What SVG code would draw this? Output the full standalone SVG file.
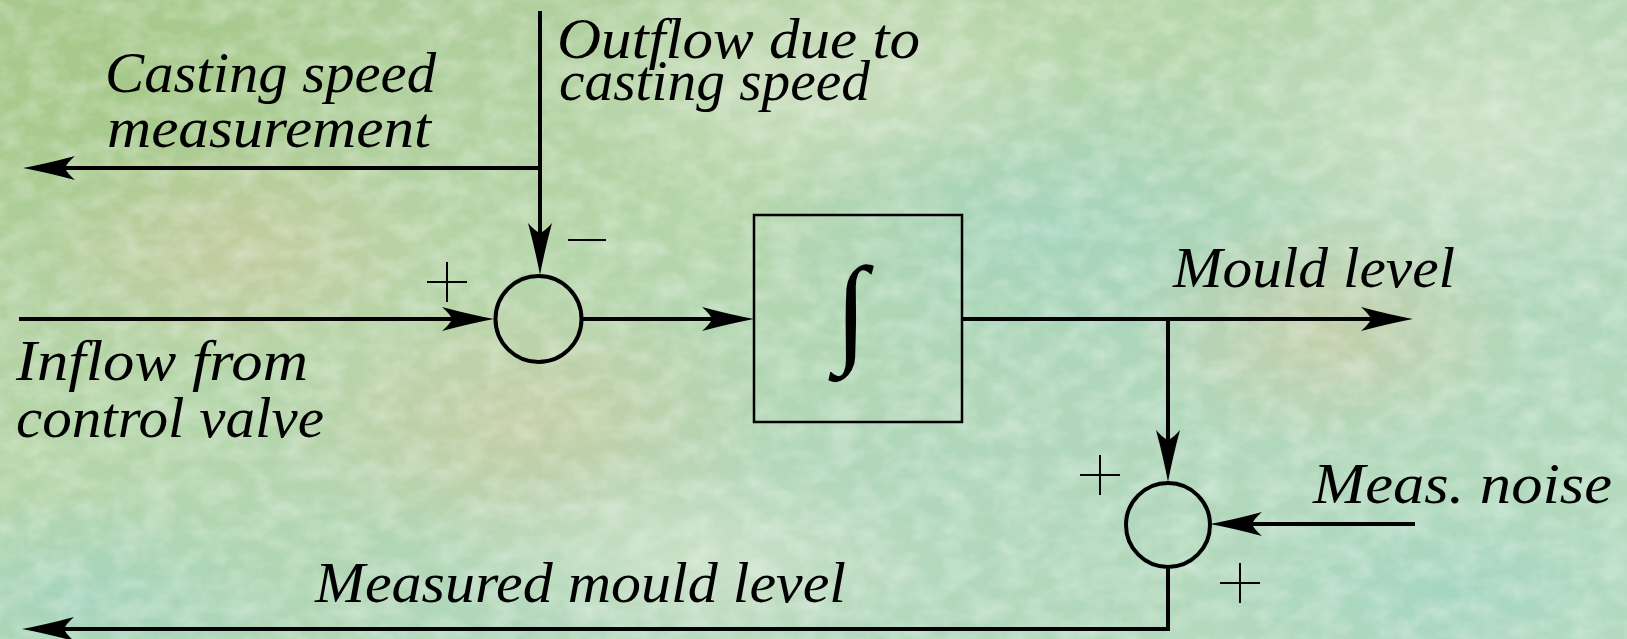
<svg xmlns="http://www.w3.org/2000/svg" width="1627" height="639" viewBox="0 0 1627 639">
<style>
.w{stroke:#000;stroke-width:4;fill:none}
.sum{stroke:#000;stroke-width:4;fill:none}
.blk{stroke:#000;stroke-width:2.5;fill:none}
.sg{stroke:#000;stroke-width:2;fill:none}
</style>
<defs>
<marker id="ah" markerUnits="userSpaceOnUse" viewBox="-54 -13 56 26" markerWidth="56" markerHeight="26" refX="-22" refY="0" orient="auto">
<path d="M0,0 Q-24,-4.5 -52,-12 Q-44,-5 -42,0 Q-44,5 -52,12 Q-24,4.5 0,0 Z" fill="#000"/>
</marker>
<linearGradient id="bg" x1="0" y1="0" x2="1" y2="1">
<stop offset="0" stop-color="#aac990"/>
<stop offset="0.35" stop-color="#b5d5a8"/>
<stop offset="0.65" stop-color="#b0d7bb"/>
<stop offset="1" stop-color="#b6dbbf"/>
</linearGradient>
<radialGradient id="g1"><stop offset="0" stop-color="#d2c79c" stop-opacity="0.55"/><stop offset="1" stop-color="#d2c79c" stop-opacity="0"/></radialGradient>
<radialGradient id="g2"><stop offset="0" stop-color="#9cd3c4" stop-opacity="0.6"/><stop offset="1" stop-color="#9cd3c4" stop-opacity="0"/></radialGradient>
<radialGradient id="g3"><stop offset="0" stop-color="#d6e4cc" stop-opacity="0.7"/><stop offset="1" stop-color="#d6e4cc" stop-opacity="0"/></radialGradient>
<radialGradient id="g4"><stop offset="0" stop-color="#9fc67e" stop-opacity="0.55"/><stop offset="1" stop-color="#9fc67e" stop-opacity="0"/></radialGradient>
<filter id="tex" x="0" y="0" width="100%" height="100%">
<feTurbulence type="fractalNoise" baseFrequency="0.035 0.05" numOctaves="3" seed="7"/>
<feColorMatrix type="matrix" values="0 0 0 0 1  0 0 0 0 1  0 0 0 0 1  0 0 0 -1.6 1.05"/>
</filter>
</defs>
<g id="background">
<rect x="0" y="0" width="1627" height="639" fill="url(#bg)"/>
<ellipse cx="120" cy="90" rx="320" ry="180" fill="url(#g4)"/>
<ellipse cx="240" cy="250" rx="220" ry="120" fill="url(#g1)"/>
<ellipse cx="520" cy="420" rx="260" ry="140" fill="url(#g1)"/>
<ellipse cx="1050" cy="230" rx="300" ry="170" fill="url(#g2)"/>
<ellipse cx="1480" cy="130" rx="260" ry="170" fill="url(#g3)"/>
<ellipse cx="1330" cy="330" rx="200" ry="120" fill="url(#g1)"/>
<ellipse cx="1450" cy="590" rx="260" ry="110" fill="url(#g2)"/>
<ellipse cx="80" cy="600" rx="220" ry="110" fill="url(#g2)"/>
<ellipse cx="820" cy="80" rx="260" ry="120" fill="url(#g3)"/>
<ellipse cx="700" cy="560" rx="260" ry="110" fill="url(#g3)"/>
<rect x="0" y="0" width="1627" height="639" filter="url(#tex)" opacity="0.35"/>
</g>
<g id="connectors">
<line class="w" x1="540" y1="11" x2="540" y2="253" marker-end="url(#ah)"/>
<line class="w" x1="540" y1="168" x2="45" y2="168" marker-end="url(#ah)"/>
<line class="w" x1="19" y1="319" x2="472" y2="319" marker-end="url(#ah)"/>
<line class="w" x1="582" y1="319" x2="732" y2="319" marker-end="url(#ah)"/>
<line class="w" x1="962" y1="319" x2="1391" y2="319" marker-end="url(#ah)"/>
<line class="w" x1="1168" y1="319" x2="1168" y2="460" marker-end="url(#ah)"/>
<line class="w" x1="1415" y1="524" x2="1232" y2="524" marker-end="url(#ah)"/>
<polyline class="w" points="1168,567 1168,629 44,629" marker-end="url(#ah)"/>
</g>
<g id="sum1">
<circle class="sum" cx="538.5" cy="319" r="43"/>
<path class="sg" d="M427,282 H467 M447,262 V302"/>
<path class="sg" d="M568,240 H606"/>
</g>
<g id="integrator">
<rect class="blk" x="754" y="215" width="208" height="207"/>
<text x="851" y="350" text-anchor="middle" font-family="Liberation Serif, serif" font-size="120">∫</text>
</g>
<g id="labels" font-family="Liberation Serif, serif" font-style="italic" font-size="56" fill="#000">
<text x="105" y="92" textLength="331" lengthAdjust="spacingAndGlyphs">Casting speed</text>
<text x="107" y="147" textLength="324" lengthAdjust="spacingAndGlyphs">measurement</text>
<text x="557" y="58" textLength="363" lengthAdjust="spacingAndGlyphs">Outflow due to</text>
<text x="559" y="100" textLength="311" lengthAdjust="spacingAndGlyphs">casting speed</text>
<text x="16" y="380" textLength="292" lengthAdjust="spacingAndGlyphs">Inflow from</text>
<text x="16" y="437" textLength="308" lengthAdjust="spacingAndGlyphs">control valve</text>
<text x="1173" y="287" textLength="282" lengthAdjust="spacingAndGlyphs">Mould level</text>
<text x="1313" y="503" textLength="299" lengthAdjust="spacingAndGlyphs">Meas. noise</text>
<text x="315" y="602" textLength="531" lengthAdjust="spacingAndGlyphs">Measured mould level</text>
</g>
<g id="sum2">
<circle class="sum" cx="1168" cy="525" r="42"/>
<path class="sg" d="M1080,475 H1120 M1100,455 V495"/>
<path class="sg" d="M1220,583 H1260 M1240,563 V603"/>
</g>
</svg>
